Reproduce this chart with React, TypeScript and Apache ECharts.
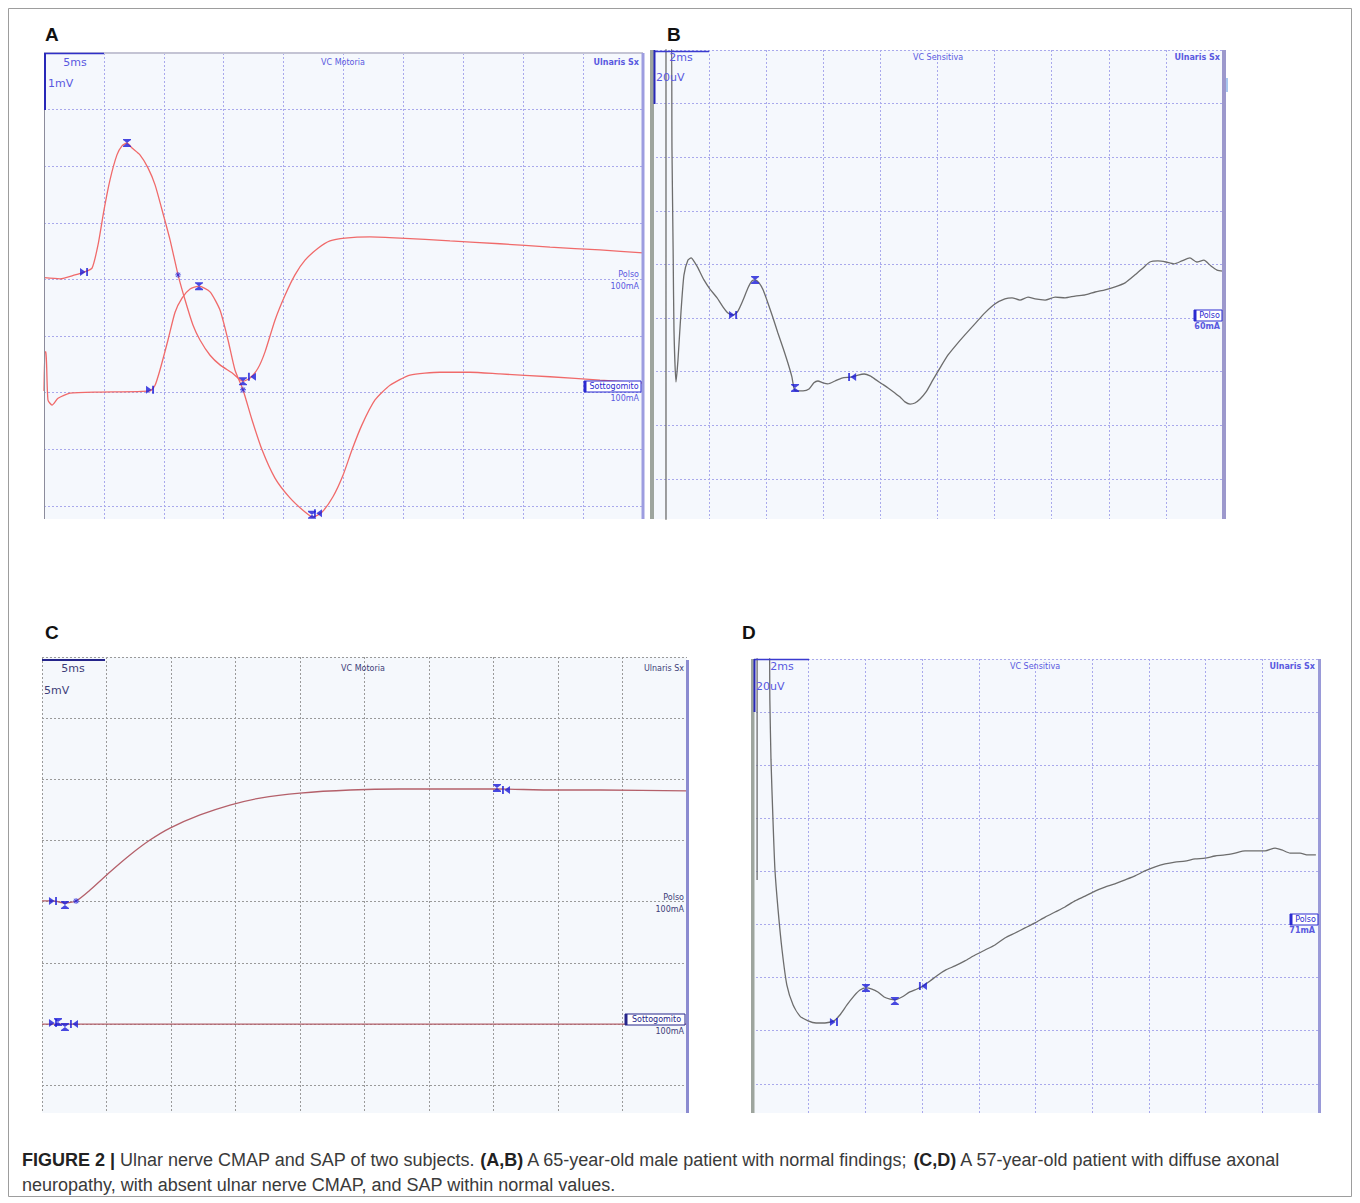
import React, { useEffect, useRef } from "react";
import * as echarts from "echarts";

// ---------- Panel A : ulnar CMAP (ms, mV ; negative up) ----------
const A_POLSO: number[][] = [[0,-0.03],[1.34,-0.01],[2.59,-0.08],[3.34,-0.13],[4.01,-0.2],[4.51,-0.61],[5.01,-1.23],[5.51,-1.76],[6.09,-2.2],[6.51,-2.36],[6.93,-2.41],[7.35,-2.32],[8.01,-2.2],[8.68,-1.97],[9.27,-1.67],[9.85,-1.23],[10.52,-0.7],[11.19,-0.08],[11.77,0.36],[12.44,0.81],[13.02,1.07],[13.86,1.34],[14.69,1.51],[15.69,1.65],[16.61,1.8],[17.2,1.74],[17.86,1.57],[18.45,1.28],[19.28,0.72],[20.12,0.28],[20.95,-0.08],[21.79,-0.34],[22.87,-0.55],[23.87,-0.68],[25.13,-0.73],[27.21,-0.75],[29.72,-0.73],[33.89,-0.68],[38.06,-0.63],[42.24,-0.57],[46.41,-0.52],[50,-0.47]];
const A_SOTTO: number[][] = [[0,1.97],[0.08,1.28],[0.17,1.28],[0.33,2.13],[0.67,2.22],[1.17,2.1],[2.17,2.01],[4.67,1.99],[8.85,1.97],[9.27,1.87],[9.68,1.6],[10.35,1.07],[10.94,0.58],[11.52,0.33],[12.19,0.17],[12.94,0.12],[13.86,0.22],[14.69,0.54],[15.36,1.07],[15.94,1.6],[16.61,1.95],[17.36,2.48],[18.2,3.01],[19.28,3.51],[20.53,3.86],[21.79,4.11],[22.45,4.2],[23.21,4.11],[24.12,3.84],[24.96,3.46],[25.71,3.01],[26.54,2.57],[27.63,2.13],[28.88,1.87],[30.55,1.69],[33.06,1.64],[35.56,1.64],[38.06,1.67],[42.24,1.72],[46.41,1.78],[50,1.83]];
const A_START: number[][] = [[3.34,-0.13],[8.85,1.95]];
const A_PEAK: number[][] = [[6.93,-2.41],[12.94,0.12],[16.61,1.8],[22.37,4.16]];
const A_END: number[][] = [[17.36,1.72],[22.87,4.13]];
const A_STAR: number[][] = [[11.19,-0.08],[16.61,1.95]];

// ---------- Panel B : ulnar SAP (ms, uV ; negative up) ----------
const B_TRACE: number[][] = [[0.49,100],[0.49,-90],[0.67,-90],[0.7,-42.7],[0.74,-5.4],[0.77,24.5],[0.84,43.9],[0.91,35.7],[1.02,17],[1.12,3.9],[1.26,-1.6],[1.37,-2.4],[1.51,-0.5],[1.61,1.3],[1.82,5.8],[2.03,9.2],[2.28,12.5],[2.49,15.9],[2.66,18.1],[2.84,18.9],[3.01,17.4],[3.19,13.3],[3.36,8.8],[3.5,6.2],[3.61,5.8],[3.75,6.9],[3.89,9.5],[4.06,14.4],[4.24,20],[4.41,25.6],[4.59,31.2],[4.76,36.8],[4.9,42],[4.97,46.1],[5.04,47.2],[5.29,47.2],[5.5,46.5],[5.67,44.2],[5.81,43.5],[5.99,44.2],[6.16,44.6],[6.41,43.5],[6.65,42.4],[7.01,42],[7.22,41.3],[7.43,40.9],[7.64,41.6],[7.85,43.1],[8.06,44.6],[8.27,46.1],[8.51,48],[8.69,49.5],[8.86,51.3],[9.04,52.1],[9.21,51.7],[9.39,50.2],[9.6,47.6],[9.84,43.1],[10.09,38.6],[10.37,33.8],[10.65,30.1],[10.96,26.3],[11.31,22.2],[11.66,18.1],[12.01,14.8],[12.36,12.9],[12.61,12.5],[12.89,13.3],[13.17,12.2],[13.42,12.9],[13.77,13.3],[14.12,12.2],[14.47,12.5],[14.82,11.8],[15.17,11.4],[15.52,10.3],[15.87,9.5],[16.22,8.4],[16.57,6.9],[16.92,3.9],[17.2,1.3],[17.44,-0.9],[17.72,-1.3],[18,-0.9],[18.28,-0.2],[18.56,-1.3],[18.84,-2.4],[19.08,-0.9],[19.33,-1.6],[19.58,0.6],[19.79,2.1],[20,2.5]];
const B_START: number[][] = [[2.84,18.9]];
const B_PEAK: number[][] = [[3.61,5.8],[5.01,46.1]];
const B_END: number[][] = [[7.01,42]];

// ---------- Panel C : absent CMAP (ms, mV) ----------
const C_POLSO: number[][] = [[0,-0.06],[0.85,-0.06],[1.78,0.11],[2.64,-0.06],[3.72,-0.95],[5.27,-2.43],[6.82,-3.82],[8.37,-5.04],[9.92,-6.02],[12.25,-7.09],[14.57,-7.9],[16.9,-8.47],[20,-8.88],[23.88,-9.13],[27.75,-9.21],[31.63,-9.21],[35.27,-9.21],[39.38,-9.13],[43.26,-9.13],[50,-9.05]];
const C_SOTTO: number[][] = [[0,10],[10,10],[20,10],[30,10],[40,10],[50,10]];
const C_START: number[][] = [[0.85,-0.06],[0.85,9.92]];
const C_PEAK: number[][] = [[1.78,0.27],[35.27,-9.3],[1.24,9.84],[1.78,10.25]];
const C_END: number[][] = [[35.97,-9.13],[2.48,10]];
const C_STAR: number[][] = [[2.64,-0.06]];

// ---------- Panel D : SAP within normal values (ms, uV) ----------
const D_TRACE: number[][] = [[0.18,23.2],[0.18,-70],[0.6,-70],[0.63,-44.6],[0.67,-22],[0.74,0.6],[0.81,19.5],[0.92,34.5],[1.06,49.6],[1.23,62.8],[1.45,70.3],[1.69,74.5],[1.98,76.3],[2.26,77.1],[2.57,77.1],[2.89,76.3],[3.1,74.1],[3.35,70.3],[3.6,66.9],[3.81,64.7],[4.02,63.9],[4.23,64.3],[4.44,65.4],[4.66,67.3],[4.87,68.1],[5.04,68.4],[5.29,67.3],[5.57,65.4],[5.82,64.3],[6.03,63.2],[6.28,61.3],[6.56,59],[6.84,57.1],[7.16,55.6],[7.51,53.7],[7.87,51.5],[8.22,49.6],[8.57,47.7],[8.92,45.1],[9.28,43.2],[9.63,41.3],[9.98,39.4],[10.34,37.2],[10.69,35.3],[11.04,33.4],[11.39,31.1],[11.75,29.3],[12.1,27.4],[12.45,25.9],[12.8,24.7],[13.16,23.2],[13.51,21.7],[13.86,19.8],[14.22,18.3],[14.57,17.2],[14.92,16.5],[15.27,16.1],[15.63,15.3],[15.98,15],[16.33,14.2],[16.68,13.8],[17.04,13.1],[17.39,12.3],[17.74,12.3],[18.1,12.3],[18.45,11.2],[18.69,11.9],[18.98,13.1],[19.33,13.1],[19.61,13.8],[19.89,13.8]];
const D_START: number[][] = [[2.89,76.7]];
const D_PEAK: number[][] = [[4.02,63.9],[5.04,68.8]];
const D_END: number[][] = [[6.03,63.2]];

// ---------- texts ----------
const PANEL_LETTERS = ["A", "B", "C", "D"];
const CAPTION_1 = "{b|FIGURE 2 |} Ulnar nerve CMAP and SAP of two subjects. {b|(A,B)} A 65-year-old male patient with normal findings; {b|(C,D)} A 57-year-old patient with diffuse axonal";
const CAPTION_2 = "neuropathy, with absent ulnar nerve CMAP, and SAP within normal values.";

const SYM_START = "path://M0,0L6,4.5L0,9Z M6.5,0H8.5V9H6.5Z";
const SYM_END = "path://M8.5,0L2.5,4.5L8.5,9Z M0,0H2V9H0Z";
const SYM_PEAK = "path://M0,0H9V1.5H0Z M0.5,1.5H8.5L4.5,4.5Z M4.5,4.5L8.5,7.5H0.5Z M0,7.5H9V9H0Z";
const SYM_STAR = "path://M3.4,0H4.6V8H3.4Z M0,3.4H8V4.6H0Z M0.7,1.5L1.5,0.7L7.3,6.5L6.5,7.3Z M6.5,0.7L7.3,1.5L1.5,7.3L0.7,6.5Z";

const VFONT = '"DejaVu Sans", Verdana, sans-serif';
const AFONT = '"Liberation Sans", Arial, sans-serif';

function buildOption(): any {
  const panels = [
    { grid: { left: 44, top: 53, width: 599, height: 466 }, x: [0, 50, 5], y: [-4, 4.233, 1], line: "#a9a9ec", bg: "#f5f8fd" },
    { grid: { left: 652, top: 50, width: 571, height: 469 }, x: [0, 20, 2], y: [-80, 95, 20], line: "#a9a9ec", bg: "#f5f8fd" },
    { grid: { left: 42, top: 657, width: 645, height: 456 }, x: [0, 50, 5], y: [-20, 17.27, 5], line: "#9a9a9a", bg: "#f5f8fc" },
    { grid: { left: 752, top: 659, width: 567, height: 454 }, x: [0, 20, 2], y: [-60, 111, 20], line: "#a9a9ec", bg: "#f5f8fd" },
  ];
  const grid = panels.map((p) => ({ ...p.grid, show: true, backgroundColor: p.bg, borderWidth: 0, containLabel: false }));
  const split = (c: string) => ({ show: true, showMaxLine: false, lineStyle: { color: c, type: [2, 2], width: 1 } });
  const xAxis = panels.map((p, i) => ({
    type: "value", gridIndex: i, min: p.x[0], max: p.x[1], interval: p.x[2],
    axisLine: { show: false }, axisTick: { show: false }, axisLabel: { show: false }, splitLine: split(p.line),
  }));
  const yAxis = panels.map((p, i) => ({
    type: "value", gridIndex: i, min: p.y[0], max: p.y[1], interval: p.y[2], inverse: true,
    axisLine: { show: false }, axisTick: { show: false }, axisLabel: { show: false }, splitLine: split(p.line),
  }));

  const RED = "#f06a6a";
  const GRAY = "#6d6d6d";
  const CRED = "#b4606a";
  const lines = [
    { p: 0, data: A_POLSO, color: RED, name: "A Polso" },
    { p: 0, data: A_SOTTO, color: RED, name: "A Sottogomito" },
    { p: 1, data: B_TRACE, color: GRAY, name: "B Polso" },
    { p: 2, data: C_POLSO, color: CRED, name: "C Polso" },
    { p: 2, data: C_SOTTO, color: CRED, name: "C Sottogomito" },
    { p: 3, data: D_TRACE, color: GRAY, name: "D Polso" },
  ];
  const series: any[] = lines.map((l) => ({
    type: "line", name: l.name, xAxisIndex: l.p, yAxisIndex: l.p, data: l.data,
    showSymbol: false, smooth: 0.2, clip: true, silent: true,
    lineStyle: { color: l.color, width: 1.3 },
  }));
  const markerSets = [
    { p: 0, start: A_START, peak: A_PEAK, end: A_END, star: A_STAR },
    { p: 1, start: B_START, peak: B_PEAK, end: B_END, star: [] },
    { p: 2, start: C_START, peak: C_PEAK, end: C_END, star: C_STAR },
    { p: 3, start: D_START, peak: D_PEAK, end: D_END, star: [] },
  ];
  const BLUE = "#1c1cd8";
  markerSets.forEach((m) => {
    const add = (data: number[][], symbol: string, size: number[]) => {
      if (!data.length) return;
      series.push({
        type: "scatter", xAxisIndex: m.p, yAxisIndex: m.p, data, symbol, symbolSize: size,
        itemStyle: { color: BLUE }, silent: true, z: 5,
      });
    };
    add(m.start, SYM_START, [8, 8]);
    add(m.peak, SYM_PEAK, [8, 8]);
    add(m.end, SYM_END, [8, 8]);
    add(m.star, SYM_STAR, [6, 6]);
  });

  const g: any[] = [];
  const rect = (x: number, y: number, w: number, h: number, fill: string, stroke?: string, lw?: number) =>
    g.push({ type: "rect", z: 50, silent: true, shape: { x, y, width: w, height: h }, style: { fill, stroke: stroke || "none", lineWidth: lw || 0 } });
  const seg = (x1: number, y1: number, x2: number, y2: number, stroke: string, lw: number) =>
    g.push({ type: "line", z: 50, silent: true, shape: { x1, y1, x2, y2 }, style: { stroke, lineWidth: lw } });
  const txt = (text: string, x: number, y: number, size: number, fill: string, align = "left", weight = "normal", family = VFONT) =>
    g.push({ type: "text", z: 60, silent: true, x, y, style: { text, fill, font: `${weight} ${size}px ${family}`, textAlign: align, textVerticalAlign: "middle", verticalAlign: "middle" } });
  const tag = (x: number, y: number, w: number, label: string, color: string, fill = "#ffffff") => {
    rect(x, y, w, 11, fill, color, 1);
    rect(x, y, 2.5, 11, color);
    txt(label, x + w / 2 + 1.5, y + 5.8, 8, color, "center");
  };

  // outer frame
  g.push({ type: "rect", z: 1, silent: true, shape: { x: 8.5, y: 8.5, width: 1343, height: 1188 }, style: { fill: "none", stroke: "#9d9d9d", lineWidth: 1 } });

  // ---- Panel A decorations
  seg(44, 53, 643, 53, "#c4c4d4", 2);
  seg(44.5, 53, 44.5, 519, "#8c8c9c", 1);
  seg(44, 53.5, 104, 53.5, "#3030c8", 1.5);
  seg(45, 53, 45, 110, "#2828b8", 2);
  rect(641.5, 53, 3, 466, "#9d9de0");
  const LA = "#5959e0";
  txt("5ms", 75, 62, 11, LA, "center");
  txt("1mV", 48, 83, 11, LA);
  txt("VC Motoria", 343, 62, 8, LA, "center");
  txt("Ulnaris Sx", 639, 62, 8, LA, "right", "bold");
  txt("Polso", 639, 274, 8, LA, "right");
  txt("100mA", 639, 286, 8, LA, "right");
  tag(584, 381, 57, "Sottogomito", "#2a2ad0");
  txt("100mA", 639, 398, 8, LA, "right");

  // ---- Panel B decorations
  rect(650, 50, 4, 469, "#9ea59e");
  seg(654, 51.5, 709, 51.5, "#3a3ad0", 1.5);
  seg(654.5, 50, 654.5, 104, "#2828b8", 2);
  rect(1222, 50, 4, 469, "#9c98cc");
  rect(1226, 78, 2, 14, "#a9c7ef");
  txt("2ms", 681, 57, 11, LA, "center");
  txt("20uV", 656, 77, 11, LA);
  txt("VC Sensitiva", 938, 57, 8, LA, "center");
  txt("Ulnaris Sx", 1220, 57, 8, LA, "right", "bold");
  tag(1194, 310, 28, "Polso", "#2a2ad0");
  txt("60mA", 1220, 326, 8, LA, "right", "bold");

  // ---- Panel C decorations
  const LC = "#3d3d78";
  seg(42, 660, 105, 660, "#25258a", 2);
  rect(686, 660, 3, 453, "#8b8bd0");
  txt("5ms", 73, 668, 11, LC, "center");
  txt("5mV", 44, 690, 11, LC);
  txt("VC Motoria", 363, 668, 8, LC, "center");
  txt("Ulnaris Sx", 684, 668, 8, LC, "right");
  txt("Polso", 684, 897, 8, LC, "right");
  txt("100mA", 684, 909, 8, LC, "right");
  tag(625, 1014, 60, "Sottogomito", "#25258a");
  txt("100mA", 684, 1031, 8, LC, "right");

  // ---- Panel D decorations
  rect(751, 659, 3.5, 454, "#9ea59e");
  seg(754, 659.5, 809, 659.5, "#3a3ad0", 1.5);
  seg(754.5, 659, 754.5, 712, "#2828b8", 2);
  rect(1318, 659, 3, 454, "#9a9ad8");
  txt("2ms", 782, 666, 11, LA, "center");
  txt("20uV", 756, 686, 11, LA);
  txt("VC Sensitiva", 1035, 666, 8, LA, "center");
  txt("Ulnaris Sx", 1315, 666, 8, LA, "right", "bold");
  tag(1290, 914, 28, "Polso", "#2a2ad0");
  txt("71mA", 1315, 930, 8, LA, "right", "bold");

  // ---- panel letters
  const letterPos = [[45, 34], [667, 34], [45, 632], [742, 632]];
  PANEL_LETTERS.forEach((l, i) => txt(l, letterPos[i][0], letterPos[i][1], 19, "#111111", "left", "bold", AFONT));

  // ---- caption
  const capStyle = (text: string, y: number) => ({
    type: "text", z: 60, silent: true, x: 22, y,
    style: {
      text, fill: "#3a3a3a", font: `normal 18px ${AFONT}`, textVerticalAlign: "middle", verticalAlign: "middle",
      rich: { b: { fontWeight: "bold", fontSize: 18, fontFamily: AFONT, fill: "#222222", color: "#222222" } },
    },
  });
  g.push(capStyle(CAPTION_1, 1160));
  g.push(capStyle(CAPTION_2, 1185));

  return { animation: false, backgroundColor: "#ffffff", grid, xAxis, yAxis, series, graphic: { elements: g } };
}

export default function App() {
  const ref = useRef<HTMLDivElement>(null);
  useEffect(() => {
    const chart = echarts.init(ref.current as HTMLDivElement, null, { renderer: "svg" });
    chart.setOption(buildOption());
    return () => chart.dispose();
  }, []);
  return <div ref={ref} style={{ position: "absolute", left: 0, top: 0, width: 1360, height: 1203, background: "#ffffff" }} />;
}
